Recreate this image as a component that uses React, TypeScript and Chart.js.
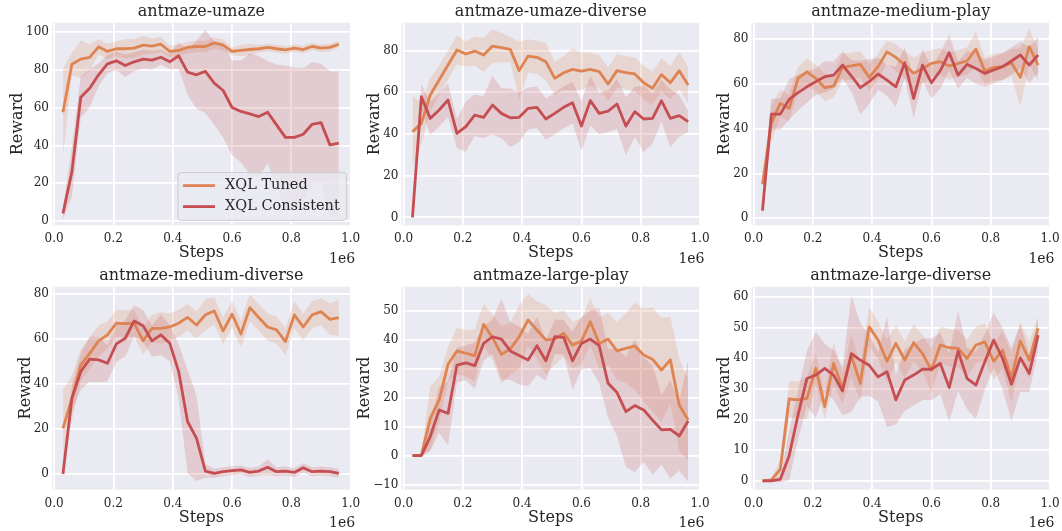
import { useEffect, useRef } from 'react';
import { Chart, registerables } from 'chart.js';
Chart.register(...registerables);

// ---------------- data ----------------
const seriesNames = ['XQL Tuned', 'XQL Consistent'];
const steps = [0.03, 0.06, 0.09, 0.12, 0.15, 0.18, 0.21, 0.24, 0.27, 0.3, 0.33, 0.36, 0.39, 0.42, 0.45, 0.48,
  0.51, 0.54, 0.57, 0.6, 0.63, 0.66, 0.69, 0.72, 0.75, 0.78, 0.81, 0.84, 0.87, 0.9, 0.93, 0.96];
const xTicks = [0, 0.2, 0.4, 0.6, 0.8, 1.0];

const umazeTuned = [57.6, 83, 85.7, 86.6, 92.2, 89.8, 91.2, 91.2, 91.5, 93.1, 92.6, 93.6, 89.8, 90.3, 91.9, 92.4, 92.4, 94.3, 93.1, 89.8, 90.3, 90.8, 91.2, 91.9, 91.2, 90.6, 91.5, 90.8, 92.4, 91.5, 91.9, 93.6];
const umazeTunedStd = [23, 6, 10, 7, 4, 4, 4, 5, 5, 5, 4, 4, 3, 3, 3, 3, 3, 3, 3, 2, 3, 3, 2, 2, 2, 2, 2, 2, 2, 2, 2, 2];
const umazeCons = [4, 26, 65.5, 70.3, 77.4, 83.2, 84.8, 82.3, 84.3, 85.7, 85.2, 86.7, 84.3, 87.5, 78.8, 77.4, 79.2, 73, 69.1, 60.1, 58, 56.7, 55.3, 57.6, 50.9, 44.3, 44.3, 45.9, 51.2, 52.1, 40.3, 41.2];
const umazeConsStd = [3, 13, 11, 10, 6, 5, 5, 6, 5, 5, 5, 4, 4, 7, 12, 18, 22, 22, 25, 25, 27, 32, 32, 27, 32, 38, 37, 35, 33, 31, 39, 38];
const umazeYTicks = [0, 20, 40, 60, 80, 100];

const umazeDivTuned = [41.1, 45.1, 58.7, 65.9, 73.1, 80.3, 78.4, 79.8, 77.9, 82.2, 81.4, 80.6, 70.4, 77.4, 76.8, 74.7, 66.7, 69.4, 71, 70.2, 71, 69.9, 64, 70.4, 69.4, 68.8, 64.6, 61.9, 68.5, 64.6, 70.4, 63.5];
const umazeDivTunedStd = [17, 10, 8, 7, 7, 7, 6, 7, 8, 8, 7, 6, 14, 8, 8, 9, 8, 8, 10, 9, 8, 8, 8, 8, 8, 8, 8, 8, 8, 8, 9, 8.5];
const umazeDivCons = [0, 57.9, 47.5, 51.5, 56.3, 40.3, 43.5, 49.1, 48, 53.9, 49.9, 47.8, 48, 52.3, 52.8, 47.2, 49.9, 52.8, 55, 43.8, 56, 49.9, 51, 54.4, 43.8, 50.7, 47.2, 47.5, 56, 47.5, 48.8, 45.9];
const umazeDivConsStd = [0, 6, 8, 8, 8, 7, 12, 10, 10, 14, 12, 14, 12, 10, 10, 10, 10, 10, 10, 12, 12, 10, 10, 12, 14, 12, 16, 12, 10, 14, 10, 5];
const umazeDivYTicks = [0, 20, 40, 60, 80];

const medPlayTuned = [15.2, 42.4, 51.3, 49.1, 62.5, 65.4, 62.5, 58.3, 59, 67.4, 68, 68.7, 62.9, 67.7, 74.3, 71.8, 68.4, 64.7, 66.9, 69.1, 69.9, 68, 69.1, 70.2, 75.5, 65.7, 67.4, 67.7, 69.4, 62.9, 76.6, 68.4];
const medPlayTunedStd = [4, 8, 6, 6, 5, 6, 6, 6, 5, 6, 6, 6, 6, 6, 5, 6, 6, 7, 7, 6, 6, 6, 6, 6, 8, 6, 6, 6, 6, 13, 8, 7];
const medPlayCons = [3.4, 46.5, 46.5, 53.1, 56.1, 58.7, 61, 63.2, 63.9, 68.4, 63.5, 58.3, 61, 64.4, 61.7, 58.7, 69.4, 53.5, 68.4, 60.5, 65.9, 73.9, 63.9, 68.7, 66.9, 64.7, 66.2, 67.7, 70.2, 72.9, 68.4, 72.9];
const medPlayConsStd = [3, 7, 7, 9, 8, 7, 6, 7, 6, 6, 7, 12, 10, 7, 7, 9, 7, 9, 7, 7, 8, 8, 6, 6, 7, 6, 6, 6, 6, 6, 8, 8];
const medPlayYTicks = [0, 20, 40, 60, 80];

const medDivTuned = [20.3, 33.6, 48.4, 53.6, 59.1, 61.8, 67, 66.8, 67, 59.1, 64.7, 64.7, 65.3, 67, 69.6, 66.2, 70.7, 72.4, 63.6, 71, 62.2, 73.9, 69.5, 65.3, 64, 58.8, 70.7, 65.3, 70.7, 72.1, 68.7, 69.5];
const medDivTunedStd = [17, 10, 7, 7, 7, 6, 6, 6, 6, 6, 6, 7, 6, 6, 6, 6, 7, 6, 6, 6, 6, 6, 6, 6, 6, 6, 6, 6, 6, 6, 7, 8];
const medDivCons = [0, 33.6, 45.5, 51, 50.7, 49.2, 57.8, 60.3, 68, 65.9, 59.1, 61.8, 58.1, 45.5, 23.3, 15.9, 1.3, 0.3, 1, 1.5, 1.8, 0.7, 1.3, 3, 1, 1.3, 0.7, 2.8, 1, 1.3, 1, 0.3];
const medDivConsStd = [0, 6, 8, 10, 10, 8, 8, 8, 7, 7, 7, 9, 8, 12, 23, 19, 3, 2, 2, 2, 2, 2, 2, 3.5, 2, 2, 2, 2, 2, 2, 2, 2];
const medDivYTicks = [0, 20, 40, 60, 80];

const largePlayTuned = [0, 0.2, 12.9, 19.2, 31.6, 36.2, 35.4, 34.6, 45.4, 40.8, 35, 36.9, 41.1, 46.9, 43.4, 40, 40.3, 42.3, 38.2, 39.6, 46.3, 38.8, 40.3, 36.2, 37.1, 37.9, 34.8, 33.3, 29.6, 33.1, 17.5, 12.3];
const largePlayTunedStd = [0, 0.5, 11, 8, 6, 8, 8, 9, 7, 8, 10, 9, 11, 9, 10, 12, 9, 8, 8, 8, 8, 9, 9, 10, 12, 15, 16, 18, 18, 15, 16, 14];
const largePlayCons = [0, 0, 6.6, 15.8, 14.6, 31.3, 32.1, 31.1, 38.8, 41.1, 40.3, 36.2, 34.6, 33.1, 38, 32.8, 41.1, 40.9, 32.8, 38.8, 40.3, 38, 25, 21.8, 15.2, 17.3, 15.8, 12.3, 8.9, 9.1, 6.8, 12];
const largePlayConsStd = [0, 0.3, 5, 8, 11, 6, 6, 8, 6, 6, 14, 10, 10, 9, 10, 7, 6, 6, 10, 9, 10, 13, 12, 15, 19, 23, 18, 19, 12, 17, 12, 21];
const largePlayYTicks = [-10, 0, 10, 20, 30, 40, 50];

const largeDivTuned = [0, 0.3, 3.8, 26.7, 26.4, 26.9, 36.7, 24.2, 38.3, 30.2, 40.8, 31.8, 50.2, 45.9, 39, 44.8, 39.4, 45.1, 41.5, 36.1, 44.3, 43.4, 43.2, 39.9, 44.3, 45.3, 39, 42.6, 33.6, 45.6, 39.4, 49.7];
const largeDivTunedStd = [0, 0.5, 3, 6, 6, 7, 5, 4, 7, 5, 7, 6, 6.5, 6, 7, 6, 6, 6, 6, 7, 6, 6, 6, 6, 6, 6, 6, 6, 8, 6, 6, 4];
const largeDivCons = [0, 0, 0.5, 8.2, 21.5, 33.4, 34.5, 36.7, 34.5, 29.3, 41.5, 39.4, 37.7, 33.9, 35.6, 26.4, 32.9, 34.5, 36.4, 36.4, 38.3, 30.4, 42.3, 33.4, 31.2, 38.8, 45.9, 39.9, 31.5, 40.1, 35, 47.5];
const largeDivConsStd = [0, 0, 1, 8, 8, 9, 14, 8, 8, 8, 19, 12, 10, 8, 18, 8, 10, 10, 10, 10, 10, 11, 13, 10, 11, 9, 9, 10, 12, 11, 6, 5];
const largeDivYTicks = [0, 10, 20, 30, 40, 50, 60];

const panels = [
  { title: 'antmaze-umaze', tuned: umazeTuned, tunedStd: umazeTunedStd, cons: umazeCons, consStd: umazeConsStd, yTicks: umazeYTicks, yMin: -2.3, yMax: 105, legend: true },
  { title: 'antmaze-umaze-diverse', tuned: umazeDivTuned, tunedStd: umazeDivTunedStd, cons: umazeDivCons, consStd: umazeDivConsStd, yTicks: umazeDivYTicks, yMin: -3.8, yMax: 93.4, legend: false },
  { title: 'antmaze-medium-play', tuned: medPlayTuned, tunedStd: medPlayTunedStd, cons: medPlayCons, consStd: medPlayConsStd, yTicks: medPlayYTicks, yMin: -3.1, yMax: 87.3, legend: false },
  { title: 'antmaze-medium-diverse', tuned: medDivTuned, tunedStd: medDivTunedStd, cons: medDivCons, consStd: medDivConsStd, yTicks: medDivYTicks, yMin: -6.9, yMax: 83.2, legend: false },
  { title: 'antmaze-large-play', tuned: largePlayTuned, tunedStd: largePlayTunedStd, cons: largePlayCons, consStd: largePlayConsStd, yTicks: largePlayYTicks, yMin: -11.7, yMax: 58.4, legend: false },
  { title: 'antmaze-large-diverse', tuned: largeDivTuned, tunedStd: largeDivTunedStd, cons: largeDivCons, consStd: largeDivConsStd, yTicks: largeDivYTicks, yMin: -2.8, yMax: 63.3, legend: false },
];

// ---------------- layout / style ----------------
const W = 1062;
const H = 531;
const FONT = '"DejaVu Serif", serif';
const TEXT = '#262626';
const BG = '#EAEAF2';
const ORANGE = '#DD8452';
const RED = '#C44E52';
const ORANGE_BAND = 'rgba(221,132,82,0.2)';
const RED_BAND = 'rgba(196,78,82,0.2)';
const LINE_W = 2.8;
const LABEL_SIZE = 16;
const cols = [
  { plotLeft: 52, plotRight: 350.7 },
  { plotLeft: 401.5, plotRight: 700 },
  { plotLeft: 751.5, plotRight: 1050 },
];
const rows = [
  { cellTop: 0, plotTop: 22.7, plotBottom: 225.3, cellBottom: 268 },
  { cellTop: 264, plotTop: 286.7, plotBottom: 489.5, cellBottom: 531 },
];
const Y_AXIS_W = 50;
// distance of the y title (centre) from the plot's left edge, per panel
const yTitleGap = [36, 28.5, 28.5, 28, 38, 28.5];

const bgPlugin = {
  id: 'axesBg',
  beforeDraw(chart: any) {
    const { ctx, chartArea: a } = chart;
    ctx.save();
    ctx.fillStyle = BG;
    ctx.fillRect(a.left, a.top, a.right - a.left, a.bottom - a.top);
    ctx.restore();
  },
};

const offsetPlugin = {
  id: 'offsetText',
  afterDraw(chart: any) {
    const { ctx, chartArea: a } = chart;
    ctx.save();
    ctx.font = `14px ${FONT}`;
    ctx.fillStyle = TEXT;
    ctx.textAlign = 'right';
    ctx.textBaseline = 'middle';
    ctx.fillText('1e6', a.right + 4.5, a.bottom + 34);
    ctx.restore();
  },
};

const legendPlugin = {
  id: 'insideLegend',
  afterDraw(chart: any) {
    if (!chart.options.plugins.insideLegend?.show) return;
    const { ctx, chartArea: a } = chart;
    const items = chart.data.datasets.filter((d: any) => d.label);
    const bw = 168.4;
    const bh = 47.7;
    const x = a.right - 4.3 - bw;
    const y = a.bottom - 5 - bh;
    ctx.save();
    ctx.beginPath();
    ctx.roundRect(x, y, bw, bh, 3);
    ctx.fillStyle = 'rgba(234,234,242,0.8)';
    ctx.fill();
    ctx.strokeStyle = '#CCCCCC';
    ctx.lineWidth = 1;
    ctx.stroke();
    ctx.font = `14.5px ${FONT}`;
    ctx.textAlign = 'left';
    ctx.textBaseline = 'middle';
    items.forEach((d: any, i: number) => {
      const ry = y + 13 + i * 21;
      ctx.beginPath();
      ctx.moveTo(x + 5, ry);
      ctx.lineTo(x + 37, ry);
      ctx.strokeStyle = d.borderColor;
      ctx.lineWidth = LINE_W;
      ctx.stroke();
      ctx.fillStyle = TEXT;
      ctx.fillText(d.label, x + 47, ry);
    });
    ctx.restore();
  },
};

function fmtY(v: number) {
  return v < 0 ? '\u2212' + Math.abs(v) : String(v);
}

function buildChart(canvas: HTMLCanvasElement, idx: number) {
  const p = panels[idx];
  const col = cols[idx % 3];
  const row = rows[Math.floor(idx / 3)];
  const pt = (arr: number[]) => steps.map((x, i) => ({ x, y: arr[i] }));
  const upper = (m: number[], s: number[]) => steps.map((x, i) => ({ x, y: m[i] + s[i] }));
  const lower = (m: number[], s: number[]) => steps.map((x, i) => ({ x, y: m[i] - s[i] }));
  const line = { pointRadius: 0, borderWidth: LINE_W, tension: 0, borderJoinStyle: 'round', fill: false };
  const band = { pointRadius: 0, borderWidth: 0, tension: 0 };
  const tickFont = { family: FONT, size: 12 };
  const labelFont = { family: FONT, size: LABEL_SIZE };
  const halfLH = (LABEL_SIZE * 1.2) / 2;
  const titleSize = 16;
  const gap = yTitleGap[idx];
  return new Chart(canvas, {
    type: 'line',
    data: {
      datasets: [
        { ...line, label: seriesNames[0], data: pt(p.tuned), borderColor: ORANGE, order: 1 },
        { ...line, label: seriesNames[1], data: pt(p.cons), borderColor: RED, order: 0 },
        { ...band, data: upper(p.tuned, p.tunedStd), fill: '+1', backgroundColor: ORANGE_BAND, borderColor: 'transparent', order: 5 },
        { ...band, data: lower(p.tuned, p.tunedStd), fill: false, borderColor: 'transparent', order: 6 },
        { ...band, data: upper(p.cons, p.consStd), fill: '+1', backgroundColor: RED_BAND, borderColor: 'transparent', order: 3 },
        { ...band, data: lower(p.cons, p.consStd), fill: false, borderColor: 'transparent', order: 4 },
      ],
    },
    options: {
      animation: false,
      responsive: false,
      devicePixelRatio: 1,
      events: [],
      layout: {
        padding: {
          left: col.plotLeft - Y_AXIS_W,
          right: W - col.plotRight,
          top: row.cellTop,
          bottom: H - row.cellBottom,
        },
      },
      plugins: {
        legend: { display: false },
        tooltip: { enabled: false },
        filler: { drawTime: 'beforeDatasetsDraw', propagate: false },
        title: {
          display: true,
          text: p.title,
          fullSize: false,
          color: TEXT,
          font: { family: FONT, size: titleSize, weight: 'normal' },
          padding: { top: 2.5, bottom: row.plotTop - row.cellTop - 2.5 - titleSize * 1.2 },
        },
        insideLegend: { show: p.legend },
      } as any,
      scales: {
        x: {
          type: 'linear',
          min: -0.007,
          max: 1.0,
          afterBuildTicks: (s: any) => { s.ticks = xTicks.map((v) => ({ value: v })); },
          afterFit: (s: any) => { s.height = row.cellBottom - row.plotBottom; s.paddingLeft = 0; s.paddingRight = 0; },
          ticks: { font: tickFont, color: TEXT, padding: 6.8, maxRotation: 0, autoSkip: false, callback: (v: any) => Number(v).toFixed(1) },
          grid: { color: '#FFFFFF', lineWidth: 1.8, drawTicks: false },
          border: { display: false },
          title: { display: true, text: 'Steps', color: TEXT, font: labelFont, padding: { top: 0, bottom: (row.cellBottom - row.plotBottom) - 28 - halfLH } },
        },
        y: {
          type: 'linear',
          min: p.yMin,
          max: p.yMax,
          afterBuildTicks: (s: any) => { s.ticks = p.yTicks.map((v) => ({ value: v })); },
          afterFit: (s: any) => { s.width = Y_AXIS_W; s.paddingTop = 0; s.paddingBottom = 0; },
          ticks: { font: tickFont, color: TEXT, padding: 3, autoSkip: false, callback: (v: any) => fmtY(Number(v)) },
          grid: { color: '#FFFFFF', lineWidth: 1.8, drawTicks: false },
          border: { display: false },
          title: { display: true, text: 'Reward', color: TEXT, font: labelFont, padding: { top: Y_AXIS_W - gap + 1.5 - halfLH, bottom: 0 } },
        },
      },
    } as any,
    plugins: [bgPlugin, offsetPlugin, legendPlugin],
  });
}

export default function App() {
  const refs = useRef<(HTMLCanvasElement | null)[]>([]);
  useEffect(() => {
    const charts = refs.current.map((c, i) => (c ? buildChart(c, i) : null));
    return () => charts.forEach((c) => c && c.destroy());
  }, []);
  return (
    <div style={{ position: 'absolute', left: 0, top: 0, width: W, height: H, background: '#ffffff' }}>
      {panels.map((p, i) => (
        <canvas
          key={p.title}
          ref={(el) => { refs.current[i] = el; }}
          width={W}
          height={H}
          style={{ position: 'absolute', left: 0, top: 0, width: W, height: H }}
        />
      ))}
    </div>
  );
}
